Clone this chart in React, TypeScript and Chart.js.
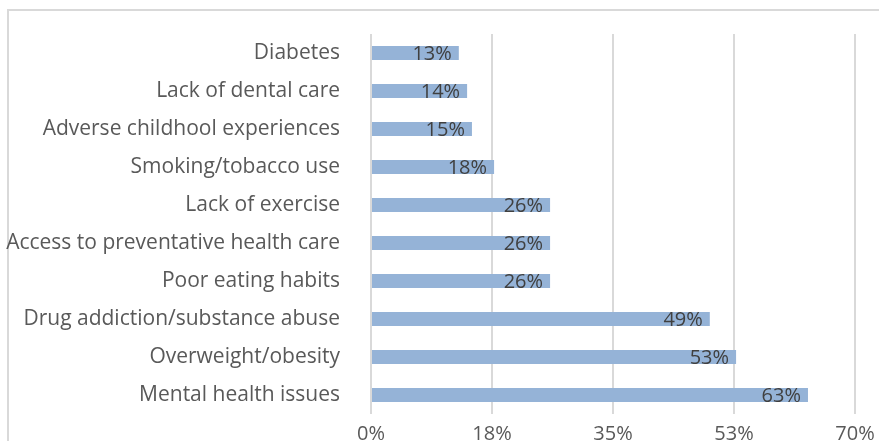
import React, { useEffect, useRef } from "react";
import { Chart, registerables } from "chart.js";

Chart.register(...registerables);

const categories = [
  "Diabetes",
  "Lack of dental care",
  "Adverse childhool experiences",
  "Smoking/tobacco use",
  "Lack of exercise",
  "Access to preventative health care",
  "Poor eating habits",
  "Drug addiction/substance abuse",
  "Overweight/obesity",
  "Mental health issues",
];
const values = [12.7, 13.9, 14.6, 17.8, 25.9, 25.9, 25.9, 49.0, 52.8, 63.2];
const valueLabels = ["13%", "14%", "15%", "18%", "26%", "26%", "26%", "49%", "53%", "63%"];
const axisMin = 0;
const axisMax = 70;
const axisStep = 17.5;

const FONT = "'Open Sans', sans-serif";

const labelPlugin = {
  id: "barLabels",
  afterDatasetsDraw(chart: any) {
    const ctx = chart.ctx;
    const meta = chart.getDatasetMeta(0);
    ctx.save();
    ctx.font = `20px ${FONT}`;
    ctx.fillStyle = "#404040";
    ctx.textAlign = "right";
    ctx.textBaseline = "middle";
    meta.data.forEach((bar: any, i: number) => {
      ctx.fillText(valueLabels[i], bar.x - 7, bar.y + 1);
    });
    ctx.restore();
  },
};

export default function App() {
  const ref = useRef<HTMLCanvasElement>(null);
  useEffect(() => {
    if (!ref.current) return;
    const chart = new Chart(ref.current, {
      type: "bar",
      data: {
        labels: categories,
        datasets: [
          {
            data: values,
            backgroundColor: "#95b3d7",
            categoryPercentage: 1,
            barPercentage: 0.37,
          },
        ],
      },
      options: {
        indexAxis: "y",
        animation: false,
        responsive: false,
        maintainAspectRatio: false,
        layout: { padding: { top: 34, right: 24, left: 0, bottom: 0 } },
        plugins: {
          legend: { display: false },
          tooltip: { enabled: false },
        },
        scales: {
          x: {
            min: axisMin,
            max: axisMax,
            afterBuildTicks(axis: any) {
              const t = [];
              for (let v = axisMin; v <= axisMax + 1e-9; v += axisStep) t.push({ value: v });
              axis.ticks = t;
            },
            afterFit(axis: any) {
              axis.height = 27;
              axis.paddingLeft = 0;
              axis.paddingRight = 0;
            },
            grid: { color: "#d9d9d9", lineWidth: 2, drawTicks: false },
            border: { display: false },
            ticks: {
              padding: 8,
              color: "#595959",
              font: { family: FONT, size: 20 },
              callback: (v: any) => Math.round(Number(v)) + "%",
              maxRotation: 0,
              autoSkip: false,
            },
          },
          y: {
            afterFit(axis: any) {
              axis.width = 371;
              axis.paddingTop = 0;
              axis.paddingBottom = 0;
            },
            grid: { display: false, drawTicks: false },
            border: { display: false },
            ticks: {
              padding: 31,
              color: "#595959",
              font: { family: FONT, size: 21 },
              autoSkip: false,
            },
          },
        },
      },
      plugins: [labelPlugin],
    });
    return () => chart.destroy();
  }, []);
  return (
    <div style={{ position: "fixed", left: 0, top: 0, width: 879, height: 441, background: "#fff", overflow: "hidden" }}>
      <div
        style={{
          position: "absolute",
          left: 7,
          top: 9,
          width: 920,
          height: 500,
          border: "2px solid #d9d9d9",
          boxSizing: "border-box",
        }}
      />
      <canvas ref={ref} width={879} height={441} style={{ position: "absolute", left: 0, top: 0 }} />
    </div>
  );
}
